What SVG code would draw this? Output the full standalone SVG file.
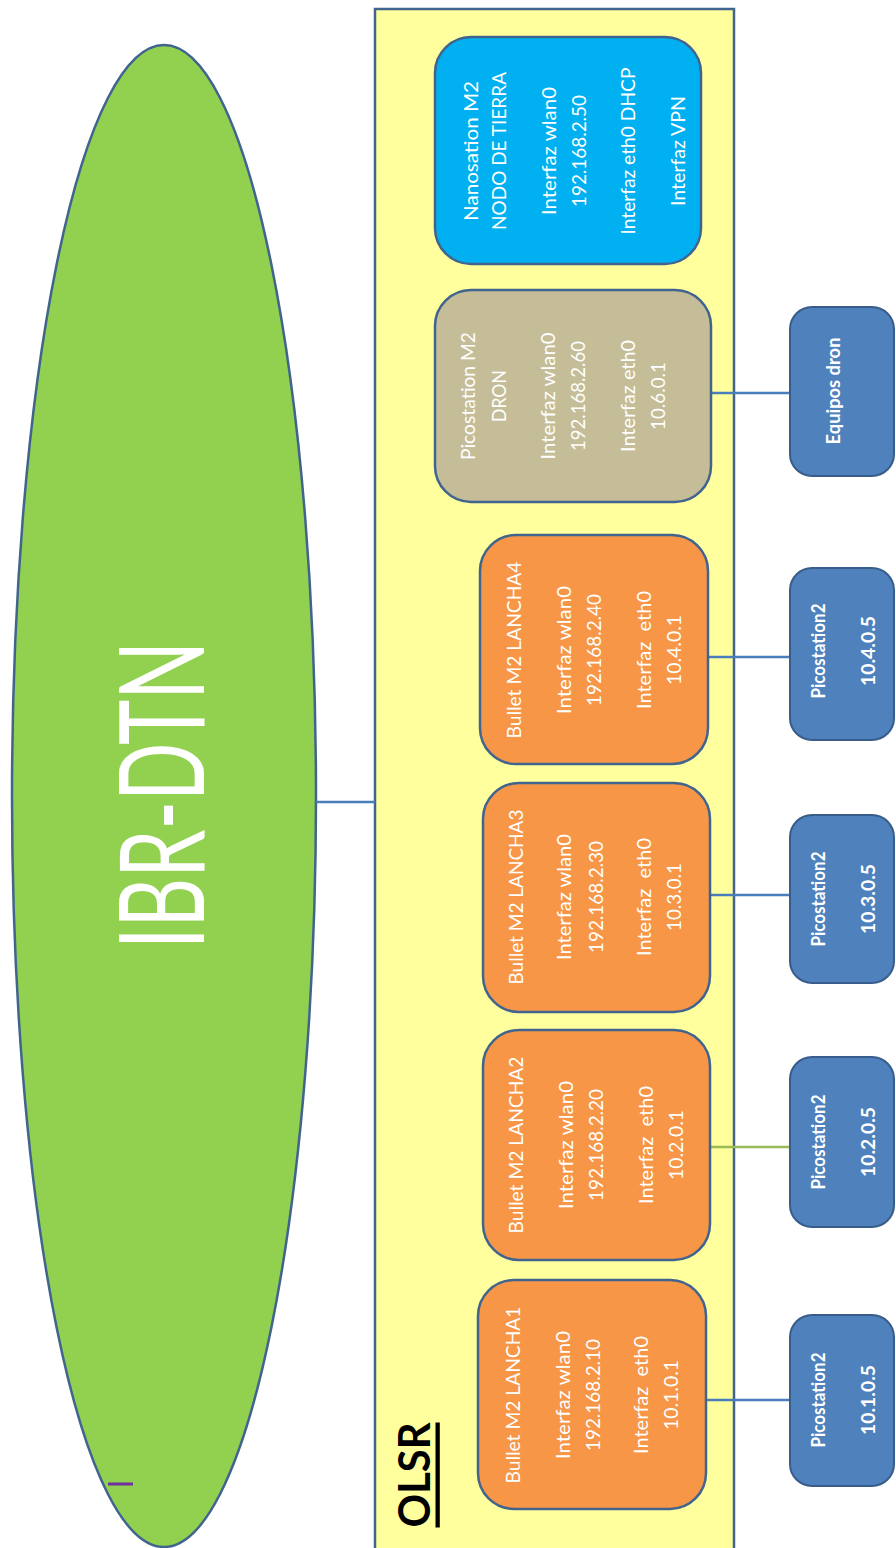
<svg xmlns="http://www.w3.org/2000/svg" width="896" height="1548" viewBox="0 0 896 1548">
<style>
.bg{fill:#FFFFFF}
.node rect{stroke:#41648F;stroke-width:2.5}
.t{font-family:Lato,"Liberation Sans",sans-serif;font-size:19px;fill:#FFFFFF;text-anchor:middle;dominant-baseline:central}
.tb{font-family:Lato,"Liberation Sans",sans-serif;font-size:18px;font-weight:bold;fill:#FFFFFF;text-anchor:middle;dominant-baseline:central}
.orange{fill:#F79646}
.pico rect{fill:#4F81BD;stroke:#385D8A;stroke-width:2}
.conn line{stroke:#4A7EBB;stroke-width:2.5}
</style>
<rect class="bg" x="0" y="0" width="896" height="1548"/>

<g id="olsr">
<rect x="375" y="9" width="359" height="1545" fill="#FFFF9E" stroke="#41648F" stroke-width="2.5"/>
<text transform="translate(413,1475) rotate(-90)" font-family="Lato,'Liberation Sans',sans-serif" font-size="43" font-weight="bold" fill="#000000" text-anchor="middle" dominant-baseline="central" text-decoration="underline" textLength="105" lengthAdjust="spacingAndGlyphs">OLSR</text>
</g>

<g id="ibr-dtn">
<ellipse cx="164" cy="796" rx="152" ry="751" fill="#92D050" stroke="#41648F" stroke-width="2.5"/>
<text transform="translate(158,795) rotate(-90)" font-family="Lato,'Liberation Sans',sans-serif" font-size="118" fill="#FFFFFF" text-anchor="middle" dominant-baseline="central" textLength="308" lengthAdjust="spacingAndGlyphs">IBR-DTN</text>
<line x1="108" y1="1484" x2="133" y2="1484" stroke="#7030A0" stroke-width="3"/>
</g>

<g class="conn" id="connectors">
<line x1="316" y1="802" x2="375" y2="802"/>
<line x1="711" y1="393" x2="790" y2="393"/>
<line x1="708" y1="657" x2="790" y2="657"/>
<line x1="705" y1="895" x2="790" y2="895"/>
<line x1="710" y1="1147" x2="790" y2="1147" style="stroke:#9BBB59"/>
<line x1="706" y1="1400" x2="790" y2="1400"/>
</g>

<g class="node" id="nanostation">
<rect x="435" y="37" width="266" height="227" rx="36" fill="#00B0F0"/>
<text class="t" transform="translate(470,151) rotate(-90)" textLength="140" lengthAdjust="spacingAndGlyphs">Nanosation M2</text>
<text class="t" transform="translate(498,151) rotate(-90)" textLength="158" lengthAdjust="spacingAndGlyphs">NODO DE TIERRA</text>
<text class="t" transform="translate(548,151) rotate(-90)" textLength="128" lengthAdjust="spacingAndGlyphs">Interfaz wlan0</text>
<text class="t" transform="translate(578,151) rotate(-90)" textLength="112" lengthAdjust="spacingAndGlyphs">192.168.2.50</text>
<text class="t" transform="translate(627,151) rotate(-90)" textLength="167" lengthAdjust="spacingAndGlyphs">Interfaz eth0 DHCP</text>
<text class="t" transform="translate(677,151) rotate(-90)" textLength="110" lengthAdjust="spacingAndGlyphs">Interfaz VPN</text>
</g>

<g class="node" id="dron">
<rect x="435" y="290" width="276" height="212" rx="36" fill="#C4BD97"/>
<text class="t" transform="translate(467,396) rotate(-90)" textLength="128" lengthAdjust="spacingAndGlyphs">Picostation M2</text>
<text class="t" transform="translate(498,396) rotate(-90)" textLength="52" lengthAdjust="spacingAndGlyphs">DRON</text>
<text class="t" transform="translate(547,396) rotate(-90)" textLength="127" lengthAdjust="spacingAndGlyphs">Interfaz wlan0</text>
<text class="t" transform="translate(577,396) rotate(-90)" textLength="110" lengthAdjust="spacingAndGlyphs">192.168.2.60</text>
<text class="t" transform="translate(627,396) rotate(-90)" textLength="112" lengthAdjust="spacingAndGlyphs">Interfaz eth0</text>
<text class="t" transform="translate(657,396) rotate(-90)" textLength="68" lengthAdjust="spacingAndGlyphs">10.6.0.1</text>
</g>

<g class="node" id="lancha4">
<rect class="orange" x="480" y="535" width="228" height="229" rx="36"/>
<text class="t" transform="translate(513,650) rotate(-90)" textLength="177" lengthAdjust="spacingAndGlyphs">Bullet M2 LANCHA4</text>
<text class="t" transform="translate(563,650) rotate(-90)" textLength="128" lengthAdjust="spacingAndGlyphs">Interfaz wlan0</text>
<text class="t" transform="translate(593,650) rotate(-90)" textLength="112" lengthAdjust="spacingAndGlyphs">192.168.2.40</text>
<text class="t" transform="translate(643,650) rotate(-90)" textLength="118" lengthAdjust="spacingAndGlyphs" xml:space="preserve">Interfaz  eth0</text>
<text class="t" transform="translate(673,650) rotate(-90)" textLength="70" lengthAdjust="spacingAndGlyphs">10.4.0.1</text>
</g>

<g class="node" id="lancha3">
<rect class="orange" x="483" y="783" width="227" height="229" rx="36"/>
<text class="t" transform="translate(515,897) rotate(-90)" textLength="175" lengthAdjust="spacingAndGlyphs">Bullet M2 LANCHA3</text>
<text class="t" transform="translate(563,897) rotate(-90)" textLength="126" lengthAdjust="spacingAndGlyphs">Interfaz wlan0</text>
<text class="t" transform="translate(595,897) rotate(-90)" textLength="112" lengthAdjust="spacingAndGlyphs">192.168.2.30</text>
<text class="t" transform="translate(643,897) rotate(-90)" textLength="118" lengthAdjust="spacingAndGlyphs" xml:space="preserve">Interfaz  eth0</text>
<text class="t" transform="translate(673,897) rotate(-90)" textLength="68" lengthAdjust="spacingAndGlyphs">10.3.0.1</text>
</g>

<g class="node" id="lancha2">
<rect class="orange" x="483" y="1030" width="227" height="230" rx="36"/>
<text class="t" transform="translate(515,1145) rotate(-90)" textLength="177" lengthAdjust="spacingAndGlyphs">Bullet M2 LANCHA2</text>
<text class="t" transform="translate(565,1145) rotate(-90)" textLength="128" lengthAdjust="spacingAndGlyphs">Interfaz wlan0</text>
<text class="t" transform="translate(595,1145) rotate(-90)" textLength="112" lengthAdjust="spacingAndGlyphs">192.168.2.20</text>
<text class="t" transform="translate(645,1145) rotate(-90)" textLength="118" lengthAdjust="spacingAndGlyphs" xml:space="preserve">Interfaz  eth0</text>
<text class="t" transform="translate(675,1145) rotate(-90)" textLength="70" lengthAdjust="spacingAndGlyphs">10.2.0.1</text>
</g>

<g class="node" id="lancha1">
<rect class="orange" x="478" y="1280" width="228" height="229" rx="36"/>
<text class="t" transform="translate(512,1395) rotate(-90)" textLength="177" lengthAdjust="spacingAndGlyphs">Bullet M2 LANCHA1</text>
<text class="t" transform="translate(562,1395) rotate(-90)" textLength="128" lengthAdjust="spacingAndGlyphs">Interfaz wlan0</text>
<text class="t" transform="translate(592,1395) rotate(-90)" textLength="112" lengthAdjust="spacingAndGlyphs">192.168.2.10</text>
<text class="t" transform="translate(640,1395) rotate(-90)" textLength="118" lengthAdjust="spacingAndGlyphs" xml:space="preserve">Interfaz  eth0</text>
<text class="t" transform="translate(670,1395) rotate(-90)" textLength="70" lengthAdjust="spacingAndGlyphs">10.1.0.1</text>
</g>

<g class="pico" id="equipos-dron">
<rect x="790" y="307" width="104" height="169" rx="22"/>
<text class="tb" transform="translate(833,391) rotate(-90)" textLength="107" lengthAdjust="spacingAndGlyphs">Equipos dron</text>
</g>

<g class="pico" id="pico4">
<rect x="790" y="568" width="104" height="172" rx="22"/>
<text class="tb" transform="translate(818,651) rotate(-90)" textLength="95" lengthAdjust="spacingAndGlyphs">Picostation2</text>
<text class="tb" transform="translate(868,651) rotate(-90)" textLength="70" lengthAdjust="spacingAndGlyphs">10.4.0.5</text>
</g>

<g class="pico" id="pico3">
<rect x="790" y="815" width="104" height="168" rx="22"/>
<text class="tb" transform="translate(818,899) rotate(-90)" textLength="95" lengthAdjust="spacingAndGlyphs">Picostation2</text>
<text class="tb" transform="translate(868,899) rotate(-90)" textLength="70" lengthAdjust="spacingAndGlyphs">10.3.0.5</text>
</g>

<g class="pico" id="pico2">
<rect x="790" y="1057" width="104" height="170" rx="22"/>
<text class="tb" transform="translate(818,1142) rotate(-90)" textLength="95" lengthAdjust="spacingAndGlyphs">Picostation2</text>
<text class="tb" transform="translate(868,1142) rotate(-90)" textLength="70" lengthAdjust="spacingAndGlyphs">10.2.0.5</text>
</g>

<g class="pico" id="pico1">
<rect x="790" y="1315" width="104" height="171" rx="22"/>
<text class="tb" transform="translate(818,1400) rotate(-90)" textLength="95" lengthAdjust="spacingAndGlyphs">Picostation2</text>
<text class="tb" transform="translate(868,1400) rotate(-90)" textLength="70" lengthAdjust="spacingAndGlyphs">10.1.0.5</text>
</g>
</svg>
